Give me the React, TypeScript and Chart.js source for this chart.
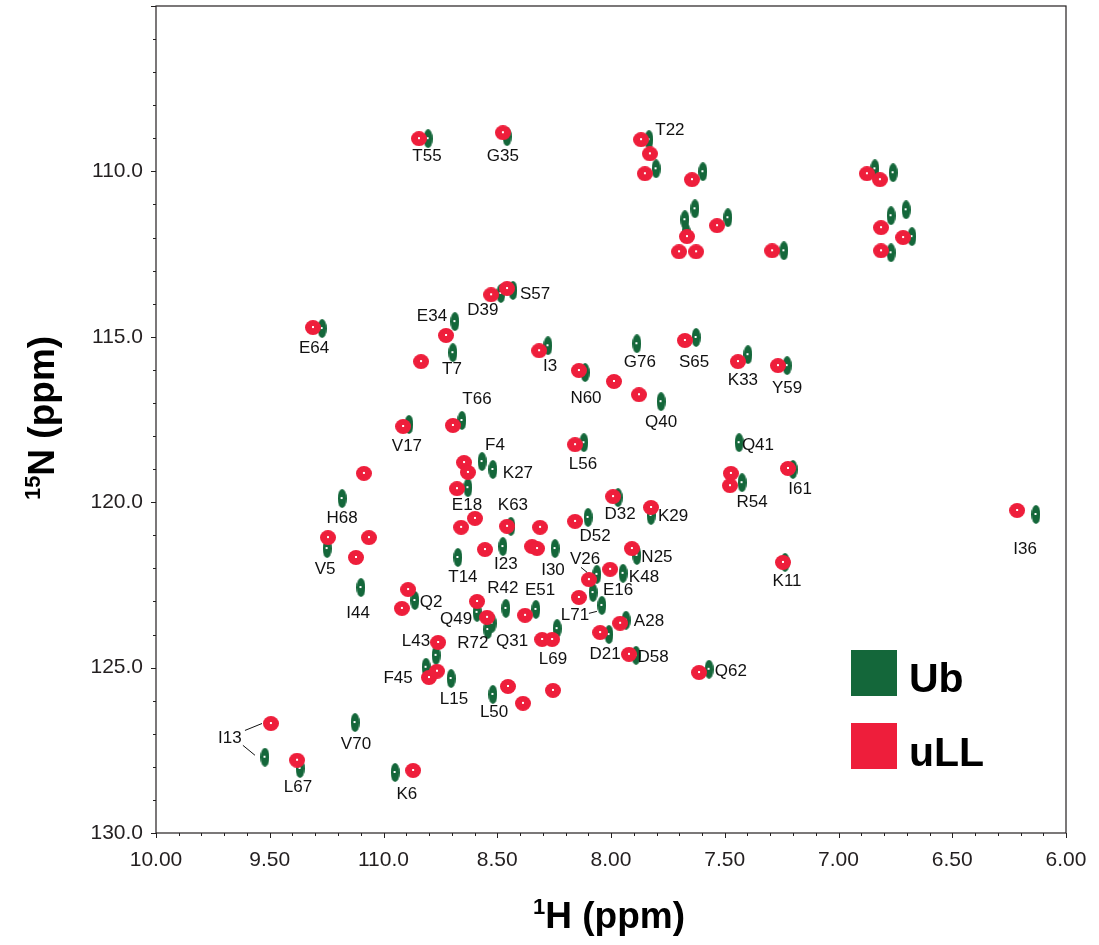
import { useEffect, useRef } from "react";
import { Chart, registerables } from "chart.js";

Chart.register(...registerables);

// ---- Data (ppm) ----
const ubH = [
  8.804, 8.457, 7.833, 7.802, 7.596, 7.631, 7.675, 7.670, 7.486, 7.240,
  6.840, 6.760, 6.769, 6.769, 6.703, 6.677, 8.431, 8.484, 8.686, 8.695,
  8.277, 9.270, 8.888, 9.182, 9.248, 8.655, 7.886, 7.626, 7.398, 7.226,
  8.114, 7.780, 8.119, 7.437, 7.200, 7.424, 8.567, 8.519, 8.629, 8.440,
  8.475, 8.246, 8.673, 8.101, 7.969, 7.824, 7.886, 7.947, 8.062, 8.079,
  8.040, 7.934, 8.009, 7.890, 8.237, 8.330, 8.462, 8.589, 8.541, 8.523,
  8.862, 9.099, 8.769, 8.813, 8.703, 8.519, 7.569, 7.235, 6.132, 9.521,
  9.367, 9.125, 8.949,
];
const ubN = [
  109.01, 108.95, 109.04, 109.92, 110.01, 111.13, 111.46, 111.85, 111.40, 112.40,
  109.92, 110.04, 111.34, 112.46, 111.16, 111.97, 113.60, 113.69, 114.54, 115.48,
  115.27, 114.75, 117.65, 119.89, 121.40, 117.53, 115.21, 115.02, 115.54, 115.87,
  116.08, 116.96, 118.20, 118.20, 119.01, 119.41, 118.77, 119.01, 119.56, 120.73,
  121.34, 121.40, 121.67, 120.46, 119.86, 120.40, 121.61, 122.15, 122.18, 122.73,
  123.12, 123.57, 124.00, 124.63, 123.82, 123.24, 123.21, 123.33, 123.85, 123.66,
  122.97, 122.58, 124.63, 124.99, 125.33, 125.81, 125.05, 121.82, 120.37, 127.71,
  128.05, 126.66, 128.17,
];

const ullH = [
  8.844, 8.475, 7.868, 7.829, 7.851, 7.644, 7.666, 7.701, 7.626, 7.534,
  7.292, 6.875, 6.818, 6.813, 6.813, 6.716, 8.457, 8.527, 8.725, 8.835,
  8.316, 9.310, 8.914, 9.086, 9.244, 9.064, 9.121, 8.695, 7.675, 7.442,
  7.266, 8.141, 7.987, 7.877, 8.158, 7.222, 7.473, 7.477, 8.646, 8.629,
  8.677, 8.457, 8.659, 8.598, 8.312, 8.554, 8.347, 8.325, 8.158, 7.991,
  7.824, 7.908, 8.004, 8.097, 8.141, 7.960, 8.048, 7.921, 8.303, 8.259,
  8.378, 8.589, 8.545, 8.892, 8.919, 8.760, 8.800, 8.765, 8.453, 8.387,
  8.255, 7.613, 7.244, 6.215, 9.495, 9.380, 8.870,
];
const ullN = [
  109.01, 108.83, 109.04, 109.47, 110.07, 110.25, 111.97, 112.43, 112.43, 111.64,
  112.40, 110.07, 110.25, 111.70, 112.40, 112.00, 113.54, 113.73, 114.96, 115.75,
  115.42, 114.72, 117.71, 119.13, 121.07, 121.07, 121.67, 117.68, 115.11, 115.75,
  115.87, 116.02, 116.35, 116.75, 118.26, 118.98, 119.13, 119.50, 118.80, 119.10,
  119.59, 120.73, 120.76, 120.49, 120.76, 121.43, 121.34, 121.40, 120.58, 119.83,
  120.16, 121.40, 122.03, 122.34, 122.88, 123.66, 123.94, 124.60, 124.15, 124.15,
  123.42, 123.00, 123.48, 122.64, 123.21, 124.24, 125.30, 125.11, 125.57, 126.08,
  125.69, 125.15, 121.82, 120.25, 126.69, 127.80, 128.11,
];

// Residue labels (text and anchor in ppm)
const labelText = [
  "T55", "G35", "T22", "S57", "D39", "E34", "T7", "I3", "E64", "V17",
  "H68", "V5", "T66", "G76", "S65", "K33", "Y59", "N60", "Q40", "L56",
  "Q41", "I61", "R54", "F4", "K27", "E18", "K63", "I23", "I30", "T14",
  "D52", "D32", "K29", "N25", "K48", "V26", "E16", "L71", "A28", "D21",
  "D58", "L69", "E51", "R42", "Q49", "R72", "Q31", "Q2", "I44", "L43",
  "F45", "L15", "L50", "Q62", "K11", "I36", "I13", "L67", "V70", "K6",
];
const labelH = [
  8.809, 8.475, 7.741, 8.334, 8.563, 8.787, 8.699, 8.268, 9.305, 8.897,
  9.182, 9.257, 8.589, 7.873, 7.635, 7.420, 7.226, 8.110, 7.780, 8.123,
  7.354, 7.169, 7.380, 8.510, 8.409, 8.633, 8.431, 8.462, 8.255, 8.651,
  8.070, 7.960, 7.727, 7.798, 7.855, 8.114, 7.969, 8.158, 7.833, 8.026,
  7.815, 8.255, 8.312, 8.475, 8.681, 8.607, 8.435, 8.791, 9.112, 8.857,
  8.936, 8.690, 8.514, 7.473, 7.226, 6.180, 9.675, 9.376, 9.121, 8.897,
];
const labelN = [
  109.50, 109.50, 108.74, 113.69, 114.18, 114.36, 115.96, 115.87, 115.33, 118.29,
  120.46, 122.00, 116.87, 115.75, 115.75, 116.29, 116.53, 116.84, 117.56, 118.83,
  118.26, 119.59, 119.98, 118.26, 119.10, 120.07, 120.07, 121.85, 122.03, 122.24,
  121.01, 120.34, 120.40, 121.64, 122.24, 121.70, 122.64, 123.39, 123.57, 124.57,
  124.66, 124.72, 122.64, 122.58, 123.51, 124.24, 124.18, 122.99, 123.33, 124.18,
  125.30, 125.93, 126.32, 125.09, 122.37, 121.40, 127.11, 128.59, 127.29, 128.80,
];

// Leader lines [h1, n1, h2, n2]
const leaderLines = [
  [8.132, 121.97, 8.105, 122.12],
  [8.097, 123.36, 8.062, 123.30],
  [9.609, 126.90, 9.534, 126.69],
  [9.618, 127.35, 9.565, 127.65],
];

const xTickValues = [10, 9.5, 9, 8.5, 8, 7.5, 7, 6.5, 6];
const xTickLabels = ["10.00", "9.50", "110.0", "8.50", "8.00", "7.50", "7.00", "6.50", "6.00"];
const yTickValues = [110, 115, 120, 125, 130];
const yTickLabels = ["110.0", "115.0", "120.0", "125.0", "130.0"];

const seriesNames = ["Ub", "uLL"];
const GREEN = "#14673A";
const RED = "#EE1E3B";
const FONT = "'Liberation Sans', Arial, Helvetica, sans-serif";

function makeEllipse(w: number, h: number, color: string) {
  const c = document.createElement("canvas");
  c.width = w;
  c.height = h;
  const ctx = c.getContext("2d")!;
  ctx.fillStyle = color;
  ctx.beginPath();
  ctx.ellipse(w / 2, h / 2, w / 2, h / 2, 0, 0, Math.PI * 2);
  ctx.fill();
  ctx.fillStyle = "#ffffff";
  ctx.fillRect(Math.floor(w / 2) - 1, Math.floor(h / 2) - 1, 2, 2);
  return c;
}

const decorPlugin = {
  id: "decor",
  afterDraw(chart: any) {
    const { ctx, chartArea: a, scales } = chart;
    const xs = scales.x;
    const ys = scales.y;
    ctx.save();
    // frame
    ctx.strokeStyle = "#231f20";
    ctx.lineWidth = 1.2;
    ctx.strokeRect(a.left, a.top, a.right - a.left, a.bottom - a.top);
    // x ticks
    ctx.lineWidth = 1;
    for (let i = 0; i <= 40; i++) {
      const v = 6 + i * 0.1;
      const px = Math.round(xs.getPixelForValue(v)) + 0.5;
      const major = i % 5 === 0;
      ctx.beginPath();
      ctx.moveTo(px, a.bottom);
      ctx.lineTo(px, a.bottom + (major ? 5 : 3));
      ctx.stroke();
    }
    for (let v = 105; v <= 130; v++) {
      const py = Math.round(ys.getPixelForValue(v)) + 0.5;
      const major = v % 5 === 0;
      ctx.beginPath();
      ctx.moveTo(a.left, py);
      ctx.lineTo(a.left - (major ? 5 : 3), py);
      ctx.stroke();
    }
    // leader lines
    ctx.strokeStyle = "#111";
    ctx.lineWidth = 1;
    leaderLines.forEach((l) => {
      ctx.beginPath();
      ctx.moveTo(xs.getPixelForValue(l[0]), ys.getPixelForValue(l[1]));
      ctx.lineTo(xs.getPixelForValue(l[2]), ys.getPixelForValue(l[3]));
      ctx.stroke();
    });
    // residue labels
    ctx.fillStyle = "#111";
    ctx.font = `17px ${FONT}`;
    ctx.textAlign = "center";
    ctx.textBaseline = "middle";
    labelText.forEach((t, i) => {
      ctx.fillText(t, xs.getPixelForValue(labelH[i]), ys.getPixelForValue(labelN[i]) + 1);
    });
    // legend
    const lx = a.right - 215;
    const ly = a.bottom - 183;
    ctx.fillStyle = GREEN;
    ctx.fillRect(lx, ly, 46, 46);
    ctx.fillStyle = RED;
    ctx.fillRect(lx, ly + 73, 46, 46);
    ctx.fillStyle = "#000";
    ctx.font = `bold 41px ${FONT}`;
    ctx.textAlign = "left";
    ctx.textBaseline = "alphabetic";
    ctx.fillText(seriesNames[0], lx + 58, ly + 42);
    ctx.fillText(seriesNames[1], lx + 58, ly + 116);
    // x title
    const titleFont = `bold 37px ${FONT}`;
    const supFont = `bold 22px ${FONT}`;
    ctx.fillStyle = "#000";
    ctx.font = supFont;
    const s1 = ctx.measureText("1").width;
    ctx.font = titleFont;
    const m1 = ctx.measureText("H (ppm)").width;
    const tx = (a.left + a.right) / 2 - (s1 + m1) / 2 - 2;
    const ty = 928;
    ctx.font = supFont;
    ctx.fillText("1", tx, ty - 14);
    ctx.font = titleFont;
    ctx.fillText("H (ppm)", tx + s1, ty);
    // y title
    ctx.save();
    ctx.translate(54, 418);
    ctx.rotate(-Math.PI / 2);
    ctx.font = supFont;
    const s2 = ctx.measureText("15").width;
    ctx.font = titleFont;
    const m2 = ctx.measureText("N (ppm)").width;
    const sx = -(s2 + m2) / 2;
    ctx.font = supFont;
    ctx.fillText("15", sx, -14);
    ctx.font = titleFont;
    ctx.fillText("N (ppm)", sx + s2, 0);
    ctx.restore();
    ctx.restore();
  },
};

export default function App() {
  const ref = useRef<HTMLCanvasElement | null>(null);
  useEffect(() => {
    document.body.style.margin = "0";
    const canvas = ref.current!;
    const greenImg = makeEllipse(9, 19, GREEN);
    const redImg = makeEllipse(16, 15, RED);
    const chart = new Chart(canvas, {
      type: "scatter",
      data: {
        datasets: [
          {
            label: seriesNames[0],
            data: ubH.map((h, i) => ({ x: h, y: ubN[i] })),
            pointStyle: greenImg as any,
            pointRadius: 5,
            backgroundColor: GREEN,
            order: 2,
          },
          {
            label: seriesNames[1],
            data: ullH.map((h, i) => ({ x: h, y: ullN[i] })),
            pointStyle: redImg as any,
            pointRadius: 5,
            backgroundColor: RED,
            order: 1,
          },
        ],
      },
      options: {
        animation: false,
        responsive: false,
        devicePixelRatio: 1,
        events: [],
        layout: { padding: { top: 5, right: 33, left: 0, bottom: 0 } },
        plugins: { legend: { display: false }, tooltip: { enabled: false } },
        scales: {
          x: {
            type: "linear",
            position: "bottom",
            min: 6,
            max: 10,
            reverse: true,
            grid: { display: false, drawTicks: false },
            border: { display: false },
            afterBuildTicks: (s: any) => {
              s.ticks = xTickValues.map((v) => ({ value: v }));
            },
            afterFit: (s: any) => {
              s.height = 112;
              s.paddingLeft = 0;
              s.paddingRight = 0;
            },
            ticks: {
              autoSkip: false,
              maxRotation: 0,
              padding: 15,
              color: "#231f20",
              font: { family: FONT, size: 21 },
              callback: (v: any) => {
                const i = xTickValues.findIndex((t) => Math.abs(t - Number(v)) < 1e-6);
                return i >= 0 ? xTickLabels[i] : "";
              },
            },
          },
          y: {
            type: "linear",
            min: 105,
            max: 130,
            reverse: true,
            grid: { display: false, drawTicks: false },
            border: { display: false },
            afterBuildTicks: (s: any) => {
              s.ticks = yTickValues.map((v) => ({ value: v }));
            },
            afterFit: (s: any) => {
              s.width = 156;
              s.paddingTop = 0;
              s.paddingBottom = 0;
            },
            ticks: {
              autoSkip: false,
              padding: 13,
              color: "#231f20",
              font: { family: FONT, size: 21 },
              callback: (v: any) => {
                const i = yTickValues.findIndex((t) => Math.abs(t - Number(v)) < 1e-6);
                return i >= 0 ? yTickLabels[i] : "";
              },
            },
          },
        },
      },
      plugins: [decorPlugin],
    });
    return () => chart.destroy();
  }, []);
  return <canvas ref={ref} width={1099} height={945} />;
}
